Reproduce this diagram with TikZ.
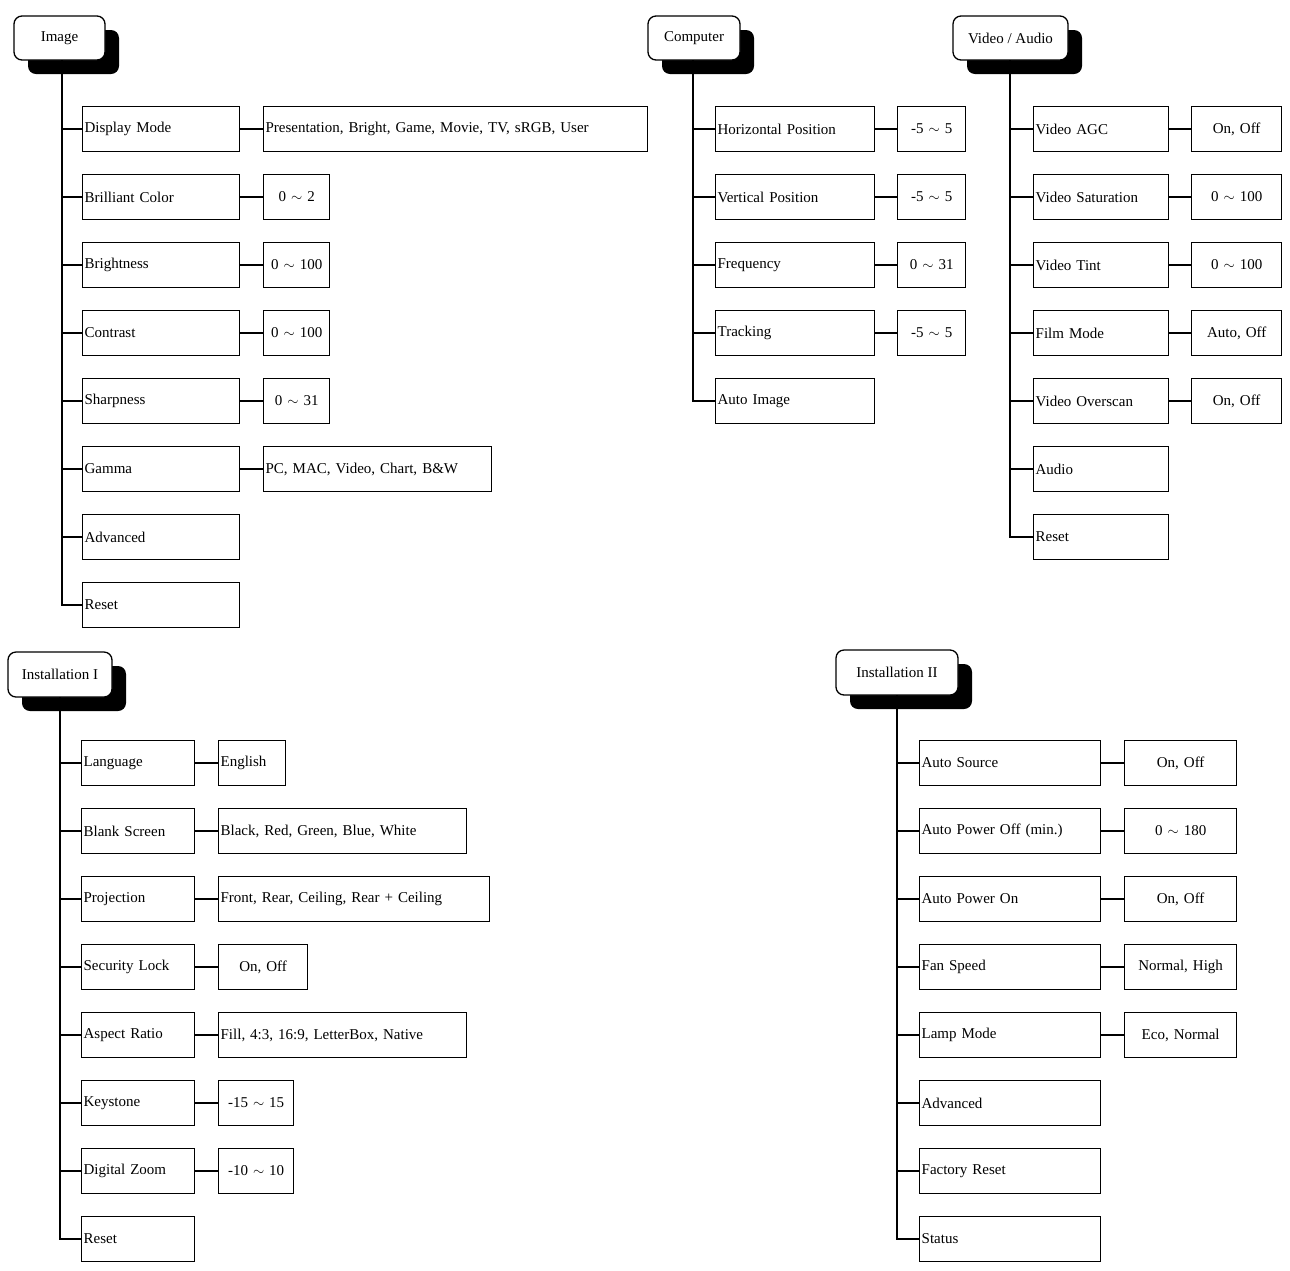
\documentclass[tikz,border=0pt]{standalone}
\usepackage{fontspec}
\setmainfont{Liberation Serif}
\begin{document}
\begin{tikzpicture}[x=1pt,y=1pt,line width=1.3pt,
  box/.style={draw,rectangle,minimum height=45pt,anchor=west,inner sep=2pt,font=\fontsize{15}{17}\selectfont},
  hdr/.style={draw,fill=white,rounded corners=8pt,inner sep=0pt,font=\fontsize{15}{17}\selectfont},
  shd/.style={fill=black,rounded corners=8pt}]
\useasboundingbox (0,0) rectangle (1290,-1270);
% left-aligned box: name, x1, x2, yc, text
\newcommand\lbx[5]{\pgfmathsetmacro\w{#3-#2-5}\node[box,text width=\w pt,align=left] (#1) at (#2,-#4) {#5};}
\newcommand\cbx[5]{\pgfmathsetmacro\w{#3-#2-5}\node[box,text width=\w pt,align=center] (#1) at (#2,-#4) {#5};}
\newcommand\hd[6]{% name x1 x2 ytop ybot text
  \fill[shd] (#2+14,-#4-14) rectangle (#3+14,-#5-14);
  \node[hdr,minimum width={(#3-#2)*1pt},minimum height={(#5-#4)*1pt}] (#1) at ({(#2+#3)/2},{-(#4+#5)/2}) {#6};}
% ---------- Image
\hd{Ih}{14}{105}{16}{60}{Image}
\coordinate (It) at (62,-60);
\lbx{I1}{82}{240}{129}{Display Mode}
\lbx{I2}{82}{240}{197}{Brilliant Color}
\lbx{I3}{82}{240}{265}{Brightness}
\lbx{I4}{82}{240}{333}{Contrast}
\lbx{I5}{82}{240}{401}{Sharpness}
\lbx{I6}{82}{240}{469}{Gamma}
\lbx{I7}{82}{240}{537}{Advanced}
\lbx{I8}{82}{240}{605}{Reset}
\lbx{V1}{263}{648}{129}{Presentation, Bright, Game, Movie, TV, sRGB, User}
\cbx{V2}{263}{330}{197}{0 $\sim$ 2}
\cbx{V3}{263}{330}{265}{0 $\sim$ 100}
\cbx{V4}{263}{330}{333}{0 $\sim$ 100}
\cbx{V5}{263}{330}{401}{0 $\sim$ 31}
\lbx{V6}{263}{492}{469}{PC, MAC, Video, Chart, B\&W}
\draw (It) |- (I8.west);
\foreach \i in {1,...,7} \draw (It |- I\i.west) -- (I\i.west);
\foreach \i in {1,...,6} \draw (I\i.east) -- (V\i.west);
% ---------- Computer
\hd{Ch}{648}{740}{16}{60}{Computer}
\coordinate (Ct) at (693,-60);
\lbx{C1}{715}{875}{129}{Horizontal Position}
\lbx{C2}{715}{875}{197}{Vertical Position}
\lbx{C3}{715}{875}{265}{Frequency}
\lbx{C4}{715}{875}{333}{Tracking}
\lbx{C5}{715}{875}{401}{Auto Image}
\cbx{D1}{897}{966}{129}{-5 $\sim$ 5}
\cbx{D2}{897}{966}{197}{-5 $\sim$ 5}
\cbx{D3}{897}{966}{265}{0 $\sim$ 31}
\cbx{D4}{897}{966}{333}{-5 $\sim$ 5}
\draw (Ct) |- (C5.west);
\foreach \i in {1,...,4} {\draw (Ct |- C\i.west) -- (C\i.west); \draw (C\i.east) -- (D\i.west);}
% ---------- Video/Audio
\hd{Ah}{953}{1068}{16}{60}{Video / Audio}
\coordinate (At) at (1010,-60);
\lbx{A1}{1033}{1169}{129}{Video AGC}
\lbx{A2}{1033}{1169}{197}{Video Saturation}
\lbx{A3}{1033}{1169}{265}{Video Tint}
\lbx{A4}{1033}{1169}{333}{Film Mode}
\lbx{A5}{1033}{1169}{401}{Video Overscan}
\lbx{A6}{1033}{1169}{469}{Audio}
\lbx{A7}{1033}{1169}{537}{Reset}
\cbx{B1}{1191}{1282}{129}{On, Off}
\cbx{B2}{1191}{1282}{197}{0 $\sim$ 100}
\cbx{B3}{1191}{1282}{265}{0 $\sim$ 100}
\cbx{B4}{1191}{1282}{333}{Auto, Off}
\cbx{B5}{1191}{1282}{401}{On, Off}
\draw (At) |- (A7.west);
\foreach \i in {1,...,6} \draw (At |- A\i.west) -- (A\i.west);
\foreach \i in {1,...,5} \draw (A\i.east) -- (B\i.west);
% ---------- Installation I
\hd{Eh}{8}{112}{652}{697}{Installation I}
\coordinate (Et) at (60,-697);
\lbx{E1}{81}{195}{763}{Language}
\lbx{E2}{81}{195}{831}{Blank Screen}
\lbx{E3}{81}{195}{899}{Projection}
\lbx{E4}{81}{195}{967}{Security Lock}
\lbx{E5}{81}{195}{1035}{Aspect Ratio}
\lbx{E6}{81}{195}{1103}{Keystone}
\lbx{E7}{81}{195}{1171}{Digital Zoom}
\lbx{E8}{81}{195}{1239}{Reset}
\lbx{F1}{218}{286}{763}{English}
\lbx{F2}{218}{467}{831}{Black, Red, Green, Blue, White}
\lbx{F3}{218}{490}{899}{Front, Rear, Ceiling, Rear + Ceiling}
\cbx{F4}{218}{308}{967}{On, Off}
\lbx{F5}{218}{467}{1035}{Fill, 4:3, 16:9, LetterBox, Native}
\cbx{F6}{218}{294}{1103}{-15 $\sim$ 15}
\cbx{F7}{218}{294}{1171}{-10 $\sim$ 10}
\draw (Et) |- (E8.west);
\foreach \i in {1,...,7} {\draw (Et |- E\i.west) -- (E\i.west); \draw (E\i.east) -- (F\i.west);}
% ---------- Installation II
\hd{Gh}{836}{958}{650}{695}{Installation II}
\coordinate (Gt) at (897,-695);
\lbx{G1}{919}{1101}{763}{Auto Source}
\lbx{G2}{919}{1101}{831}{Auto Power Off (min.)}
\lbx{G3}{919}{1101}{899}{Auto Power On}
\lbx{G4}{919}{1101}{967}{Fan Speed}
\lbx{G5}{919}{1101}{1035}{Lamp Mode}
\lbx{G6}{919}{1101}{1103}{Advanced}
\lbx{G7}{919}{1101}{1171}{Factory Reset}
\lbx{G8}{919}{1101}{1239}{Status}
\cbx{H1}{1124}{1237}{763}{On, Off}
\cbx{H2}{1124}{1237}{831}{0 $\sim$ 180}
\cbx{H3}{1124}{1237}{899}{On, Off}
\cbx{H4}{1124}{1237}{967}{Normal, High}
\cbx{H5}{1124}{1237}{1035}{Eco, Normal}
\draw (Gt) |- (G8.west);
\foreach \i in {1,...,7} \draw (Gt |- G\i.west) -- (G\i.west);
\foreach \i in {1,...,5} \draw (G\i.east) -- (H\i.west);
\end{tikzpicture}
\end{document}
